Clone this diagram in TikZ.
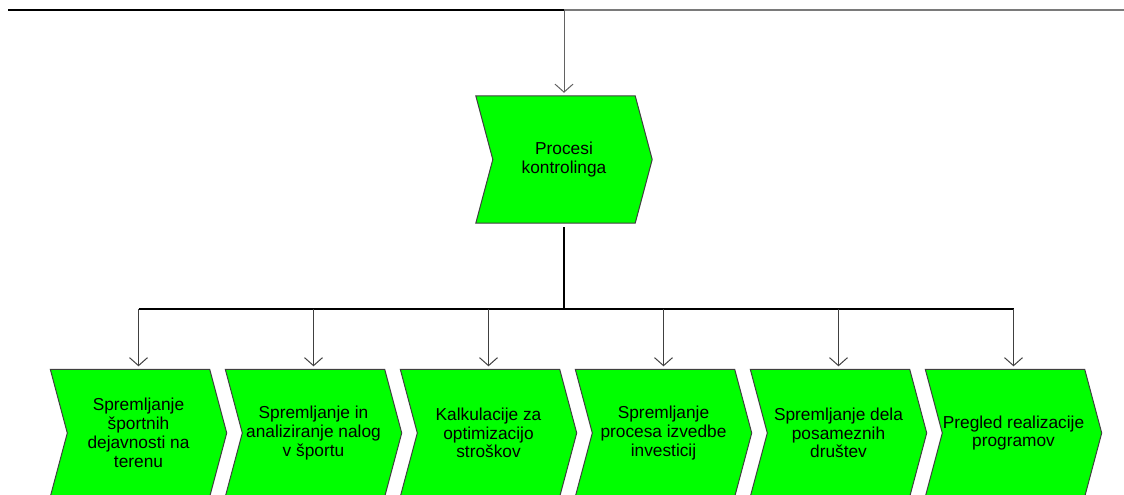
\documentclass[tikz,border=0pt]{standalone}
\usepackage{fontspec}
\setmainfont{Liberation Sans}
\usetikzlibrary{arrows.meta,backgrounds,calc}
\definecolor{chevgreen}{HTML}{00FF00}
\definecolor{linegray}{HTML}{404040}
\definecolor{lightline}{HTML}{7A7A7A}
\tikzset{
  chevbox/.style={rectangle,minimum width=176pt,minimum height=127pt,inner sep=0pt,
    align=center,font=\fontsize{17.3}{18.8}\selectfont},
  chevline/.style={draw=linegray,line width=1pt,fill=chevgreen,line join=miter},
  conn/.style={draw=linegray,line width=1pt,-{Straight Barb[length=8pt,width=18pt,line width=1pt]},shorten >=3pt},
  mainline/.style={draw=black,line width=2pt},
}
\newcommand{\chevron}[1]{%
  \draw[chevline] (#1.north west) -- ($(#1.north east)+(-17pt,0)$) -- (#1.east)
    -- ($(#1.south east)+(-17pt,0)$) -- (#1.south west) -- ($(#1.west)+(17pt,0)$) -- cycle;}
\begin{document}
\begin{tikzpicture}[x=1pt,y=-1pt]
\useasboundingbox (0,0) rectangle (1124,495);
\coordinate (tl) at (8,10);
\coordinate (tm) at (564,10);
\coordinate (tr) at (1124,10);
\coordinate (hb) at (564,309);
\node[chevbox] (p) at (564,159.5) {Procesi\\kontrolinga};
\node[chevbox] (c1) at (138.5,433) {Spremljanje\\športnih\\dejavnosti na\\terenu};
\node[chevbox] (c2) at (313.5,433) {Spremljanje in\\analiziranje nalog\\v športu};
\node[chevbox] (c3) at (488.5,433) {Kalkulacije za\\optimizacijo\\stroškov};
\node[chevbox] (c4) at (663.5,433) {Spremljanje\\procesa izvedbe\\investicij};
\node[chevbox] (c5) at (838.5,433) {Spremljanje dela\\posameznih\\društev};
\node[chevbox] (c6) at (1013.5,433) {Pregled realizacije\\programov};
\begin{scope}[on background layer]
  \foreach \n in {p,c1,c2,c3,c4,c5,c6} {\chevron{\n}}
\end{scope}
\draw[mainline] (tl) -- (tm);
\draw[draw=lightline,line width=1.5pt] (tm) -- (tr);
\draw[conn,draw=lightline!80!black] (tm) -- (p.north);
\draw[mainline] ($(p.south)+(0,4)$) -- (hb);
\draw[draw=black,line width=1.3pt] (c1.north |- hb) -- (c6.north |- hb);
\foreach \n in {c1,c2,c3,c4,c5,c6} {\draw[conn] (\n.north |- hb) -- (\n.north);}
\end{tikzpicture}
\end{document}
